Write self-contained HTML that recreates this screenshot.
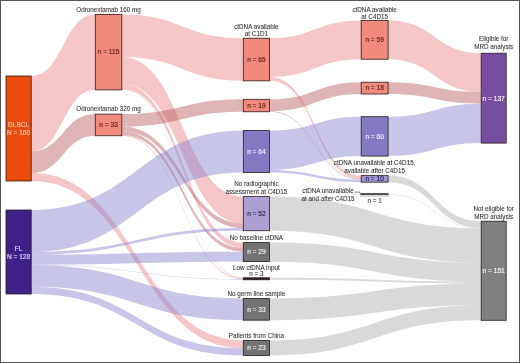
<!DOCTYPE html>
<html><head><meta charset="utf-8"><style>
html,body{margin:0;padding:0;background:#fff;}
body{width:520px;height:363px;overflow:hidden;}
svg{display:block;will-change:transform;}
text{font-family:"Liberation Sans",sans-serif;}
</style></head><body>
<svg width="520" height="363" viewBox="0 0 520 363">
<rect x="0" y="0" width="520" height="363" fill="#fff"/>
<path d="M388.10,175.60C434.65,175.60 434.65,221.20 481.20,221.20L481.20,227.76C434.65,227.76 434.65,182.16 388.10,182.16Z" fill="rgb(171,171,171)" fill-opacity="0.45"/>
<path d="M388.10,194.20C434.65,194.20 434.65,227.76 481.20,227.76L481.20,228.42C434.65,228.42 434.65,194.86 388.10,194.86Z" fill="rgb(171,171,171)" fill-opacity="0.45"/>
<path d="M269.50,196.60C375.35,196.60 375.35,228.42 481.20,228.42L481.20,262.54C375.35,262.54 375.35,230.72 269.50,230.72Z" fill="rgb(171,171,171)" fill-opacity="0.45"/>
<path d="M269.50,242.60C375.35,242.60 375.35,262.54 481.20,262.54L481.20,281.57C375.35,281.57 375.35,261.63 269.50,261.63Z" fill="rgb(171,171,171)" fill-opacity="0.45"/>
<path d="M269.50,277.80C375.35,277.80 375.35,281.57 481.20,281.57L481.20,283.54C375.35,283.54 375.35,279.77 269.50,279.77Z" fill="rgb(171,171,171)" fill-opacity="0.45"/>
<path d="M269.50,298.50C375.35,298.50 375.35,283.54 481.20,283.54L481.20,305.20C375.35,305.20 375.35,320.16 269.50,320.16Z" fill="rgb(171,171,171)" fill-opacity="0.45"/>
<path d="M269.50,340.40C375.35,340.40 375.35,305.20 481.20,305.20L481.20,320.29C375.35,320.29 375.35,355.49 269.50,355.49Z" fill="rgb(171,171,171)" fill-opacity="0.45"/>
<path d="M31.20,76.00C63.25,76.00 63.25,14.40 95.30,14.40L95.30,89.87C63.25,89.87 63.25,151.47 31.20,151.47Z" fill="rgb(233,128,133)" fill-opacity="0.45"/>
<path d="M31.20,173.12C137.25,173.12 137.25,340.40 243.30,340.40L243.30,348.27C137.25,348.27 137.25,181.00 31.20,181.00Z" fill="rgb(233,128,133)" fill-opacity="0.45"/>
<path d="M121.80,14.40C182.55,14.40 182.55,38.20 243.30,38.20L243.30,80.86C182.55,80.86 182.55,57.06 121.80,57.06Z" fill="rgb(233,128,133)" fill-opacity="0.45"/>
<path d="M121.80,57.06C182.55,57.06 182.55,196.60 243.30,196.60L243.30,223.51C182.55,223.51 182.55,83.96 121.80,83.96Z" fill="rgb(233,128,133)" fill-opacity="0.45"/>
<path d="M121.80,83.96C182.55,83.96 182.55,242.60 243.30,242.60L243.30,247.85C182.55,247.85 182.55,89.21 121.80,89.21Z" fill="rgb(233,128,133)" fill-opacity="0.45"/>
<path d="M121.80,89.21C182.55,89.21 182.55,277.80 243.30,277.80L243.30,278.46C182.55,278.46 182.55,89.87 121.80,89.87Z" fill="rgb(233,128,133)" fill-opacity="0.45"/>
<path d="M269.50,38.20C315.35,38.20 315.35,20.50 361.20,20.50L361.20,59.22C315.35,59.22 315.35,76.92 269.50,76.92Z" fill="rgb(233,128,133)" fill-opacity="0.45"/>
<path d="M269.50,76.92C315.35,76.92 315.35,175.60 361.20,175.60L361.20,178.88C315.35,178.88 315.35,80.20 269.50,80.20Z" fill="rgb(233,128,133)" fill-opacity="0.45"/>
<path d="M269.50,80.20C315.35,80.20 315.35,194.20 361.20,194.20L361.20,194.86C315.35,194.86 315.35,80.86 269.50,80.86Z" fill="rgb(233,128,133)" fill-opacity="0.45"/>
<path d="M388.10,20.50C434.65,20.50 434.65,53.20 481.20,53.20L481.20,91.92C434.65,91.92 434.65,59.22 388.10,59.22Z" fill="rgb(233,128,133)" fill-opacity="0.45"/>
<path d="M31.20,151.47C63.25,151.47 63.25,114.10 95.30,114.10L95.30,135.76C63.25,135.76 63.25,173.12 31.20,173.12Z" fill="rgb(182,88,93)" fill-opacity="0.45"/>
<path d="M121.80,114.10C182.55,114.10 182.55,99.30 243.30,99.30L243.30,111.77C182.55,111.77 182.55,126.57 121.80,126.57Z" fill="rgb(182,88,93)" fill-opacity="0.45"/>
<path d="M121.80,126.57C182.55,126.57 182.55,223.51 243.30,223.51L243.30,228.10C182.55,228.10 182.55,131.16 121.80,131.16Z" fill="rgb(182,88,93)" fill-opacity="0.45"/>
<path d="M121.80,131.16C182.55,131.16 182.55,247.85 243.30,247.85L243.30,251.79C182.55,251.79 182.55,135.10 121.80,135.10Z" fill="rgb(182,88,93)" fill-opacity="0.45"/>
<path d="M121.80,135.10C182.55,135.10 182.55,278.46 243.30,278.46L243.30,279.11C182.55,279.11 182.55,135.76 121.80,135.76Z" fill="rgb(182,88,93)" fill-opacity="0.45"/>
<path d="M269.50,99.30C315.35,99.30 315.35,82.20 361.20,82.20L361.20,94.01C315.35,94.01 315.35,111.11 269.50,111.11Z" fill="rgb(182,88,93)" fill-opacity="0.45"/>
<path d="M269.50,111.11C315.35,111.11 315.35,178.88 361.20,178.88L361.20,179.54C315.35,179.54 315.35,111.77 269.50,111.77Z" fill="rgb(182,88,93)" fill-opacity="0.45"/>
<path d="M388.10,82.20C434.65,82.20 434.65,91.92 481.20,91.92L481.20,103.73C434.65,103.73 434.65,94.01 388.10,94.01Z" fill="rgb(182,88,93)" fill-opacity="0.45"/>
<path d="M31.20,210.00C137.25,210.00 137.25,130.60 243.30,130.60L243.30,172.60C137.25,172.60 137.25,252.00 31.20,252.00Z" fill="rgb(133,128,204)" fill-opacity="0.45"/>
<path d="M31.20,252.00C137.25,252.00 137.25,228.10 243.30,228.10L243.30,230.72C137.25,230.72 137.25,254.62 31.20,254.62Z" fill="rgb(133,128,204)" fill-opacity="0.45"/>
<path d="M31.20,254.62C137.25,254.62 137.25,251.79 243.30,251.79L243.30,261.63C137.25,261.63 137.25,264.47 31.20,264.47Z" fill="rgb(133,128,204)" fill-opacity="0.45"/>
<path d="M31.20,264.47C137.25,264.47 137.25,279.11 243.30,279.11L243.30,279.77C137.25,279.77 137.25,265.12 31.20,265.12Z" fill="rgb(133,128,204)" fill-opacity="0.45"/>
<path d="M31.20,265.12C137.25,265.12 137.25,298.50 243.30,298.50L243.30,320.16C137.25,320.16 137.25,286.78 31.20,286.78Z" fill="rgb(133,128,204)" fill-opacity="0.45"/>
<path d="M31.20,286.78C137.25,286.78 137.25,348.27 243.30,348.27L243.30,355.49C137.25,355.49 137.25,294.00 31.20,294.00Z" fill="rgb(133,128,204)" fill-opacity="0.45"/>
<path d="M269.50,130.60C315.35,130.60 315.35,116.70 361.20,116.70L361.20,156.07C315.35,156.07 315.35,169.97 269.50,169.97Z" fill="rgb(133,128,204)" fill-opacity="0.45"/>
<path d="M269.50,169.97C315.35,169.97 315.35,179.54 361.20,179.54L361.20,182.16C315.35,182.16 315.35,172.60 269.50,172.60Z" fill="rgb(133,128,204)" fill-opacity="0.45"/>
<path d="M388.10,116.70C434.65,116.70 434.65,103.73 481.20,103.73L481.20,143.11C434.65,143.11 434.65,156.07 388.10,156.07Z" fill="rgb(133,128,204)" fill-opacity="0.45"/>
<rect x="6.00" y="76.00" width="25.20" height="105.00" fill="#e94b0d" stroke="#2a1a1a" stroke-width="0.8"/>
<rect x="6.00" y="210.00" width="25.20" height="84.00" fill="#3e228a" stroke="#2a1a1a" stroke-width="0.8"/>
<rect x="95.30" y="14.40" width="26.50" height="75.47" fill="#f08a7c" stroke="#2a1a1a" stroke-width="0.8"/>
<rect x="95.30" y="114.10" width="26.50" height="21.66" fill="#f08a7c" stroke="#2a1a1a" stroke-width="0.8"/>
<rect x="243.30" y="38.20" width="26.20" height="42.66" fill="#f08a7c" stroke="#2a1a1a" stroke-width="0.8"/>
<rect x="243.30" y="99.30" width="26.20" height="12.47" fill="#f08a7c" stroke="#2a1a1a" stroke-width="0.8"/>
<rect x="243.30" y="130.60" width="26.20" height="42.00" fill="#847ac4" stroke="#2a1a1a" stroke-width="0.8"/>
<rect x="243.30" y="196.60" width="26.20" height="34.12" fill="#aca0d2" stroke="#2a1a1a" stroke-width="0.8"/>
<rect x="243.30" y="242.60" width="26.20" height="19.03" fill="#727372" stroke="#2a1a1a" stroke-width="0.8"/>
<rect x="243.30" y="277.80" width="26.20" height="1.97" fill="#222222" stroke="#2a1a1a" stroke-width="0.8"/>
<rect x="243.30" y="298.50" width="26.20" height="21.66" fill="#727372" stroke="#2a1a1a" stroke-width="0.8"/>
<rect x="243.30" y="340.40" width="26.20" height="15.09" fill="#727372" stroke="#2a1a1a" stroke-width="0.8"/>
<rect x="361.20" y="20.50" width="26.90" height="38.72" fill="#f08a7c" stroke="#2a1a1a" stroke-width="0.8"/>
<rect x="361.20" y="82.20" width="26.90" height="11.81" fill="#f08a7c" stroke="#2a1a1a" stroke-width="0.8"/>
<rect x="361.20" y="116.70" width="26.90" height="39.38" fill="#847ac4" stroke="#2a1a1a" stroke-width="0.8"/>
<rect x="361.20" y="175.60" width="26.90" height="6.56" fill="#9f97d4" stroke="#2a1a1a" stroke-width="0.8"/>
<rect x="360.8" y="193.3" width="27.6" height="2.7" fill="#fff" stroke="#888" stroke-width="0.6"/>
<line x1="360.8" y1="194.1" x2="388.4" y2="194.1" stroke="#111" stroke-width="1.3"/>
<rect x="481.20" y="53.20" width="25.00" height="89.91" fill="#784ea0" stroke="#2a1a1a" stroke-width="0.8"/>
<rect x="481.20" y="221.20" width="25.00" height="99.09" fill="#808080" stroke="#2a1a1a" stroke-width="0.8"/>
<path d="M354.6,192.1 L359.4,192.1 L360.6,194" fill="none" stroke="#333" stroke-width="0.6"/>
<text x="108.55" y="11.5" text-anchor="middle" font-size="6.3" fill="#2b2b2b" stroke="#2b2b2b" stroke-width="0.05">Odronextamab 160 mg</text>
<text x="108.55" y="110.6" text-anchor="middle" font-size="6.3" fill="#2b2b2b" stroke="#2b2b2b" stroke-width="0.05">Odronextamab 320 mg</text>
<text x="256.4" y="28.6" text-anchor="middle" font-size="6.3" fill="#2b2b2b" stroke="#2b2b2b" stroke-width="0.05">ctDNA available</text>
<text x="256.4" y="36.2" text-anchor="middle" font-size="6.3" fill="#2b2b2b" stroke="#2b2b2b" stroke-width="0.05">at C1D1</text>
<text x="374.65" y="11.5" text-anchor="middle" font-size="6.3" fill="#2b2b2b" stroke="#2b2b2b" stroke-width="0.05">ctDNA available</text>
<text x="374.65" y="19.2" text-anchor="middle" font-size="6.3" fill="#2b2b2b" stroke="#2b2b2b" stroke-width="0.05">at C4D15</text>
<text x="493.7" y="40.8" text-anchor="middle" font-size="6.3" fill="#2b2b2b" stroke="#2b2b2b" stroke-width="0.05">Eligible for</text>
<text x="493.7" y="48.9" text-anchor="middle" font-size="6.3" fill="#2b2b2b" stroke="#2b2b2b" stroke-width="0.05">MRD analysis</text>
<text x="493.7" y="210.8" text-anchor="middle" font-size="6.3" fill="#2b2b2b" stroke="#2b2b2b" stroke-width="0.05">Not eligible for</text>
<text x="493.7" y="218.6" text-anchor="middle" font-size="6.3" fill="#2b2b2b" stroke="#2b2b2b" stroke-width="0.05">MRD analysis</text>
<text x="256.4" y="185.8" text-anchor="middle" font-size="6.3" fill="#2b2b2b" stroke="#2b2b2b" stroke-width="0.05">No radiographic</text>
<text x="256.4" y="193.5" text-anchor="middle" font-size="6.3" fill="#2b2b2b" stroke="#2b2b2b" stroke-width="0.05">assessment at C4D15</text>
<text x="256.4" y="239.6" text-anchor="middle" font-size="6.3" fill="#2b2b2b" stroke="#2b2b2b" stroke-width="0.05">No baseline ctDNA</text>
<text x="256.4" y="269.5" text-anchor="middle" font-size="6.3" fill="#2b2b2b" stroke="#2b2b2b" stroke-width="0.05">Low ctDNA input</text>
<text x="256.4" y="275.5" text-anchor="middle" font-size="6.3" fill="#2b2b2b" stroke="#2b2b2b" stroke-width="0.05">n = 3</text>
<text x="256.4" y="295.6" text-anchor="middle" font-size="6.3" fill="#2b2b2b" stroke="#2b2b2b" stroke-width="0.05">No germ line sample</text>
<text x="256.4" y="337.6" text-anchor="middle" font-size="6.3" fill="#2b2b2b" stroke="#2b2b2b" stroke-width="0.05">Patients from China</text>
<text x="374.65" y="165.3" text-anchor="middle" font-size="6.3" fill="#2b2b2b" stroke="#2b2b2b" stroke-width="0.05">ctDNA unavailable at C4D15,</text>
<text x="374.65" y="173.4" text-anchor="middle" font-size="6.3" fill="#2b2b2b" stroke="#2b2b2b" stroke-width="0.05">available after C4D15</text>
<text x="328" y="192.5" text-anchor="middle" font-size="6.3" fill="#2b2b2b" stroke="#2b2b2b" stroke-width="0.05">ctDNA unavailable</text>
<text x="328" y="200.6" text-anchor="middle" font-size="6.3" fill="#2b2b2b" stroke="#2b2b2b" stroke-width="0.05">at and after C4D15</text>
<text x="374.65" y="203.4" text-anchor="middle" font-size="6.3" fill="#2b2b2b" stroke="#2b2b2b" stroke-width="0.05">n = 1</text>
<text x="18.6" y="126.8" text-anchor="middle" font-size="6.5" fill="#ffd6bf" stroke="#ffd6bf" stroke-width="0.12">DLBCL</text>
<text x="18.6" y="134.6" text-anchor="middle" font-size="6.5" fill="#ffd6bf" stroke="#ffd6bf" stroke-width="0.12">N = 160</text>
<text x="18.6" y="251.2" text-anchor="middle" font-size="6.5" fill="#e6e0ff" stroke="#e6e0ff" stroke-width="0.12">FL</text>
<text x="18.6" y="259.0" text-anchor="middle" font-size="6.5" fill="#e6e0ff" stroke="#e6e0ff" stroke-width="0.12">N = 128</text>
<text x="108.55" y="54.48" text-anchor="middle" font-size="6.6" fill="#5e1812" stroke="#5e1812" stroke-width="0.14">n = 115</text>
<text x="108.55" y="127.28" text-anchor="middle" font-size="6.6" fill="#5e1812" stroke="#5e1812" stroke-width="0.14">n = 33</text>
<text x="256.4" y="61.88" text-anchor="middle" font-size="6.6" fill="#5e1812" stroke="#5e1812" stroke-width="0.14">n = 65</text>
<text x="256.4" y="107.88" text-anchor="middle" font-size="6.6" fill="#5e1812" stroke="#5e1812" stroke-width="0.14">n = 19</text>
<text x="256.4" y="153.95" text-anchor="middle" font-size="6.6" fill="#f4f0ff" stroke="#f4f0ff" stroke-width="0.14">n = 64</text>
<text x="256.4" y="216.01" text-anchor="middle" font-size="6.6" fill="#2a2250" stroke="#2a2250" stroke-width="0.14">n = 52</text>
<text x="256.4" y="254.47" text-anchor="middle" font-size="6.6" fill="#f2f2f2" stroke="#f2f2f2" stroke-width="0.14">n = 29</text>
<text x="256.4" y="311.68" text-anchor="middle" font-size="6.6" fill="#f2f2f2" stroke="#f2f2f2" stroke-width="0.14">n = 33</text>
<text x="256.4" y="350.3" text-anchor="middle" font-size="6.6" fill="#f2f2f2" stroke="#f2f2f2" stroke-width="0.14">n = 23</text>
<text x="374.65" y="42.21" text-anchor="middle" font-size="6.6" fill="#5e1812" stroke="#5e1812" stroke-width="0.14">n = 59</text>
<text x="374.65" y="90.46" text-anchor="middle" font-size="6.6" fill="#5e1812" stroke="#5e1812" stroke-width="0.14">n = 18</text>
<text x="374.65" y="138.74" text-anchor="middle" font-size="6.6" fill="#f4f0ff" stroke="#f4f0ff" stroke-width="0.14">n = 60</text>
<text x="374.65" y="181.23" text-anchor="middle" font-size="6.6" fill="#2b2560" stroke="#2b2560" stroke-width="0.14">n = 10</text>
<text x="493.7" y="100.5" text-anchor="middle" font-size="6.6" fill="#ffffff" stroke="#ffffff" stroke-width="0.14">n = 137</text>
<text x="493.7" y="273.1" text-anchor="middle" font-size="6.6" fill="#ffffff" stroke="#ffffff" stroke-width="0.14">n = 151</text>
<rect x="0.5" y="0.5" width="519" height="362" fill="none" stroke="#555" stroke-width="1"/>
</svg>
</body></html>
